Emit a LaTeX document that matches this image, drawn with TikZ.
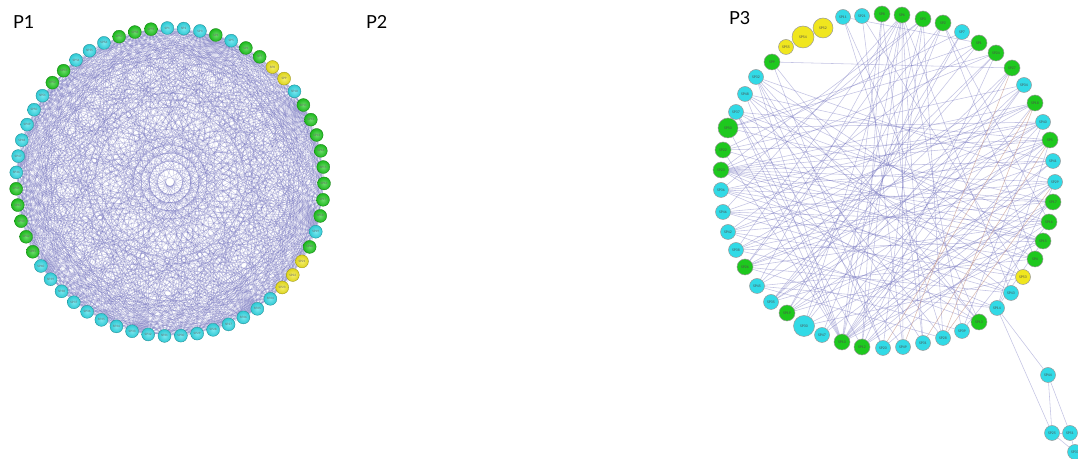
\documentclass[tikz,border=0pt]{standalone}
\usepackage{fontspec}
\setmainfont{Lato}
\usepackage{xcolor}
\usetikzlibrary{backgrounds}
\definecolor{spc}{RGB}{50,218,230}
\definecolor{spg}{RGB}{30,200,30}
\definecolor{spy}{RGB}{240,230,30}
\definecolor{edgeblue}{RGB}{112,112,188}
\definecolor{edgebrown}{RGB}{185,125,105}

\begin{document}
\begin{tikzpicture}[x=0.5pt,y=-0.5pt,
  pnode/.style={circle,inner sep=0pt,minimum size=6.5pt,draw=#1!60!black,line width=0.15pt,
    shading=radial,inner color=#1!65!white,outer color=#1!92!black,
    font=\fontsize{1.5}{2}\selectfont,text=black!60},
  qnode/.style={circle,inner sep=0pt,minimum size=7.5pt,draw=black!40,line width=0.25pt,fill=#1,
    font=\fontsize{1.7}{2}\selectfont,text=black!70},
  dense/.style={edgeblue,opacity=0.34,line width=0.25pt},
  sparse/.style={edgeblue,opacity=0.42,line width=0.28pt},
  brownedge/.style={edgebrown,opacity=0.5,line width=0.28pt},
  panel/.style={font=\fontsize{9}{11}\selectfont,anchor=west}]
\useasboundingbox (0,0) rectangle (1078,459);

%Panel titles
\node[panel] (t1) at (6,22) {P1};
\node[panel] (t2) at (359,22) {P2};
\node[panel] (t3) at (722,18) {P3};

%Draw P1 ring
\foreach \col [count=\i] in {c,c,c,g,c,g,g,y,y,c,g,g,g,g,g,g,g,g,c,g,y,y,y,c,c,c,c,c,c,c,c,c,c,c,c,c,c,c,c,c,g,g,g,g,g,c,c,c,c,c,c,g,g,c,c,c,g,g,g}{
  \pgfmathsetmacro\ang{91-(\i-1)*6.1017}
  \node[pnode=sp\col] (a\i) at ({170+154*cos(\ang)},{182-154*sin(\ang)}) {SP\i};
}

%Draw P1 edges
\begin{pgfonlayer}{background}
\foreach \i in {1,...,58}{
  \pgfmathtruncatemacro\first{\i+1}
  \foreach \j in {\first,...,59}{
    \pgfmathtruncatemacro\pick{mod(\i*\i+3*\j+\i*\j,7)}
    \ifnum\pick<3 \draw[dense] (a\i) -- (a\j);\fi
  }
}
\end{pgfonlayer}

%Draw P3 ring
\foreach \x/\y/\col/\s/\txt [count=\i] in {
  843/17/c/7.5/SP11, 862/16/c/7.5/SP21, 882/14/g/8/SP8, 902/15/g/8/SP6, 923/19/g/8/SP3,
  943/23/g/8/SP2, 962/32/c/7.5/SP7, 979/43/g/8/SP1, 996/53/g/8/SP24, 1012/68/g/8/SP27,
  1024/85/c/7.5/SP34, 1035/103/g/8/SP18, 1043/122/c/7.5/SP40, 1050/140/g/8/SP5, 1053/161/c/7.5/SP41,
  1055/182/c/7.5/SP29, 1053/202/g/8/SP17, 1049/222/g/8/SP16, 1043/241/g/8/SP15, 1035/259/g/8/SP4,
  1023/277/y/7.5/SP53, 1011/293/c/7.5/SP43, 997/308/c/7.5/SP14, 979/322/g/8/SP13, 962/331/c/7.5/SP39,
  943/338/c/7.5/SP28, 923/343/c/7.5/SP31, 903/347/c/7.5/SP49, 883/348/c/7.5/SP20, 862/347/g/8/SP12,
  842/342/g/8/SP10, 822/335/c/7.5/SP47, 804/326/c/10.5/SP30, 787/313/g/8/SP19, 771/302/c/7.5/SP35,
  757/286/c/7.5/SP45, 745/267/g/8/SP26, 736/250/c/7.5/SP38, 728/232/c/7.5/SP42, 723/212/c/7.5/SP46,
  721/190/c/7.5/SP36, 721/170/g/8/SP23, 723/150/g/8/SP22, 728/128/g/10/SP50, 736/112/c/7.5/SP37,
  745/94/c/7.5/SP48, 756/77/c/7.5/SP32, 772/62/g/8/SP9, 786/47/y/7.5/SP55, 803/37/y/11/SP54,
  823/28/y/10/SP52}{
  \node[qnode=sp\col,minimum size=\s pt] (b\i) at (\x,\y) {\txt};
}

%Draw P3 tail
\node[qnode=spc] (c1) at (1048,375) {SP44};
\node[qnode=spc] (c2) at (1052,433) {SP25};
\node[qnode=spc] (c3) at (1070,433) {SP51};
\node[qnode=spc] (c4) at (1075,452) {SP33};

%Draw P3 edges
\begin{pgfonlayer}{background}
\foreach \u/\v in {42/12,42/13,42/14,42/15,42/16,42/17,42/18,42/19,42/20,42/22,42/9,42/5,42/24,
  41/15,41/17,41/19,41/21,41/23, 40/16,40/18,40/20,40/22, 39/14,39/17,39/21,39/24,
  38/13,38/16,38/19,38/23, 37/12,37/15,37/18,37/22,37/25,37/6, 36/20,36/23,36/26,
  4/31,4/30,4/28,4/33,4/36,4/38,4/40,4/27,4/25,4/22, 5/31,5/29,5/26,5/37,5/41,
  6/32,6/34,6/20,6/18, 3/30,3/31,3/27,
  31/10,31/11,31/12,31/13,31/15,31/16,31/17,31/19,31/45,31/46,31/47,31/43,31/44,
  30/14,30/16,30/18,30/9,30/45, 47/16,47/20,47/24,47/27,47/29, 46/15,46/19,46/22,46/26,
  45/14,45/18,45/21,45/28, 44/13,44/17,44/9,44/8, 43/14,43/19,43/11,43/7,
  48/24,48/29,48/10, 2/28,2/21, 1/24,1/26,1/8, 7/33,7/34, 8/39,8/35, 9/36,9/35,
  10/35,10/33, 11/34,11/38, 12/39,12/40, 13/36,13/41, 14/35,14/37,14/34,
  25/18,25/13, 29/17, 32/11,32/15, 34/16,34/19, 35/18,35/13, 33/21,33/17, 23/16,23/19,23/14}{
  \draw[sparse] (b\u) -- (b\v);
}
\foreach \u/\v in {26/16,27/14,28/10,29/12,26/12}{
  \draw[brownedge] (b\u) -- (b\v);
}
\draw[sparse] (b23) -- (c1);
\draw[sparse] (b23) -- (c2);
\draw[sparse] (c1) -- (c2);
\draw[sparse] (c1) -- (c3);
\draw[sparse] (c2) -- (c3);
\draw[sparse] (c2) -- (c4);
\draw[sparse] (c3) -- (c4);
\end{pgfonlayer}
\end{tikzpicture}
\end{document}
